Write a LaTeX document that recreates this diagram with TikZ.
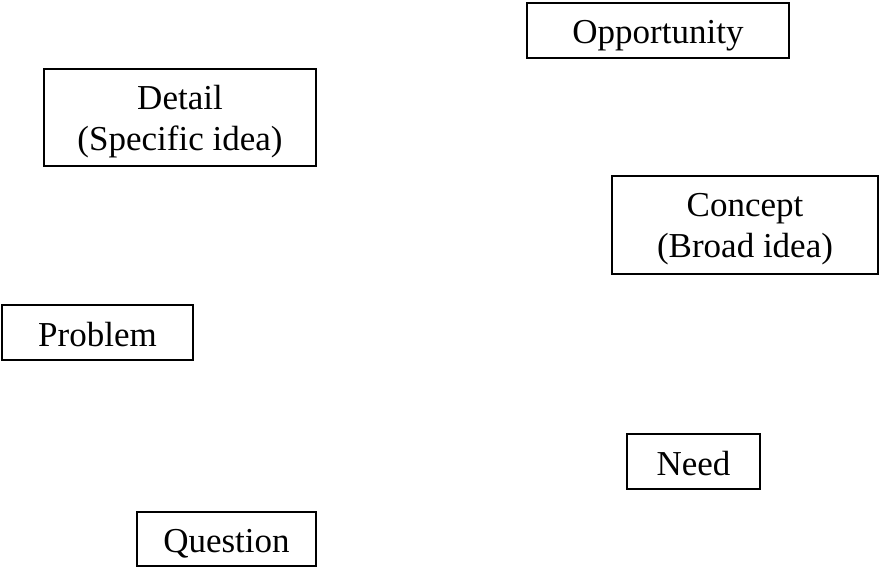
\documentclass[tikz,border=0pt]{standalone}
\usepackage{fontspec}
\setmainfont{Liberation Serif}
\usetikzlibrary{positioning}

\begin{document}
\begin{tikzpicture}[
    x=1pt, y=-1pt,
    every node/.style={font=\fontsize{35}{41}\selectfont},
    box/.style={draw, line width=2pt, align=center, inner sep=0pt, minimum height=55pt, text height=30pt, text depth=3pt},
    bigbox/.style={draw, line width=2pt, align=center, inner sep=0pt, minimum height=97pt, text height=73pt, text depth=7pt}
]
\useasboundingbox (0,0) rectangle (879,567);
\node[box, minimum width=262pt] (opportunity) at (658,30.5) {Opportunity};
\node[bigbox, minimum width=272pt] (detail) at (180,117.5) {Detail\\(Specific idea)};
\node[bigbox, minimum width=266pt] (concept) at (745,225) {Concept\\(Broad idea)};
\node[box, minimum width=191pt] (problem) at (97.5,332.5) {Problem};
\node[box, minimum width=133pt] (need) at (693.5,461.5) {Need};
\node[box, minimum width=179pt, minimum height=54pt] (question) at (226.5,539) {Question};
\end{tikzpicture}
\end{document}
